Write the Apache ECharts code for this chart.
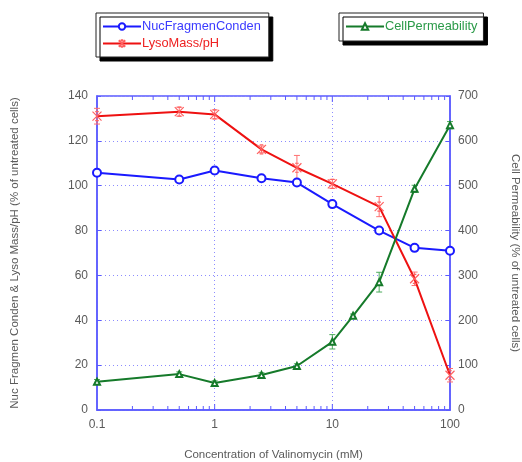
<!DOCTYPE html>
<html><head><meta charset="utf-8">
<script src="https://cdn.jsdelivr.net/npm/echarts@6/dist/echarts.min.js"></script>
<style>html,body{margin:0;padding:0;background:#fff}#c{width:522px;height:462px}</style>
</head><body><div id="c"></div>
<script>
const conc = [0.1, 0.5, 1, 2.5, 5, 10, 25, 50, 100];
const nucFrag = [105.8, 102.8, 106.8, 103.3, 101.4, 91.8, 80, 72.3, 71];
const nucErr = [1.5, 1, 1.5, 1, 1, 1, 1, 1, 1];
const lysoMass = [131, 133, 131.8, 116.2, 108, 100.8, 90.7, 58.5, 15.5];
const lysoErr = [3.5, 2, 2, 1.5, 5.5, 2, 4.5, 3, 3];
const permConc = [0.1, 0.5, 1, 2.5, 5, 10, 15, 25, 50, 100];
const cellPerm = [63, 80, 60, 78, 98, 152, 210, 285, 493, 635];
const permErr = [5, 5, 5, 5, 5, 16, 4, 22, 8, 8];
const minorTickVals = [0.2,0.3,0.4,0.5,0.6,0.7,0.8,0.9,2,3,4,5,6,7,8,9,20,30,40,50,60,70,80,90];
const majorTickVals = [1, 10];

const axisBlue = '#5a5aff';
const labelGray = '#5a5a5a';
const font = 'Liberation Sans, Arial, sans-serif';

function pairs(xs, ys) { return xs.map((x, i) => [x, ys[i]]); }
function errData(xs, ys, es) { return xs.map((x, i) => [x, ys[i] - es[i], ys[i] + es[i]]); }

function errRender(color) {
  return function (params, api) {
    const lo = api.coord([api.value(0), api.value(1)]);
    const hi = api.coord([api.value(0), api.value(2)]);
    const w = 3;
    return {
      type: 'group',
      children: [
        {type: 'line', shape: {x1: lo[0], y1: lo[1], x2: hi[0], y2: hi[1]}, style: {stroke: color, lineWidth: 1}},
        {type: 'line', shape: {x1: lo[0]-w, y1: lo[1], x2: lo[0]+w, y2: lo[1]}, style: {stroke: color, lineWidth: 1}},
        {type: 'line', shape: {x1: hi[0]-w, y1: hi[1], x2: hi[0]+w, y2: hi[1]}, style: {stroke: color, lineWidth: 1}}
      ]
    };
  };
}

function tickRender(params, api) {
  const len = api.value(1);
  const b = api.coord([api.value(0), 0]);
  const t = api.coord([api.value(0), 140]);
  const kids = [
    {type: 'line', shape: {x1: b[0], y1: b[1], x2: b[0], y2: b[1]-len}, style: {stroke: axisBlue, lineWidth: 1}},
    {type: 'line', shape: {x1: t[0], y1: t[1], x2: t[0], y2: t[1]+len}, style: {stroke: axisBlue, lineWidth: 1}}
  ];
  return {type: 'group', children: kids};
}

const xSym = 'path://M0,0L10,10M10,0L0,10M3,0L7,0M3,10L7,10';

const chart = echarts.init(document.getElementById('c'), null, {renderer: 'canvas'});
chart.setOption({
  animation: false,
  backgroundColor: '#fff',
  textStyle: {fontFamily: font},
  grid: {left: 97, right: 72, top: 96, bottom: 52, outerBoundsMode: 'none', containLabel: false,
    show: true, borderColor: axisBlue, borderWidth: 1.5, backgroundColor: 'rgba(0,0,0,0)'},
  legend: [
    {
      left: 96, top: 13, orient: 'vertical', itemWidth: 38, itemHeight: 8, itemGap: 4,
      padding: [7, 8, 7, 6],
      backgroundColor: '#fff', borderColor: '#222', borderWidth: 1,
      shadowColor: '#000', shadowOffsetX: 4, shadowOffsetY: 4, shadowBlur: 0,
      textStyle: {fontSize: 12.8, fontFamily: font, padding: [0, 0, 0, -4]},
      data: [
        {name: 'NucFragmenConden', textStyle: {color: '#3a3aff'}},
        {name: 'LysoMass/pH', textStyle: {color: '#ee2222'}}
      ]
    },
    {
      left: 339, top: 13, orient: 'vertical', itemWidth: 38, itemHeight: 8,
      padding: [7, 6, 8, 6],
      backgroundColor: '#fff', borderColor: '#222', borderWidth: 1,
      shadowColor: '#000', shadowOffsetX: 4, shadowOffsetY: 4, shadowBlur: 0,
      textStyle: {fontSize: 12.8, fontFamily: font, padding: [0, 0, 0, -4]},
      data: [{name: 'CellPermeability', textStyle: {color: '#2a9a48'}}]
    }
  ],
  xAxis: [
    {
      type: 'log', logBase: 10, min: 0.1, max: 100,
      name: 'Concentration of Valinomycin (mM)', nameLocation: 'middle', nameGap: 39,
      nameTextStyle: {color: labelGray, fontSize: 11.5, fontFamily: font},
      axisLine: {show: true, lineStyle: {color: axisBlue, width: 1.5}},
      axisTick: {show: false},
      axisLabel: {color: labelGray, fontSize: 12, margin: 9, formatter: v => String(v)},
      splitLine: {show: true, lineStyle: {color: '#8c8cff', type: [1, 3], width: 1}}
    }
  ],
  yAxis: [
    {
      type: 'value', min: 0, max: 140, interval: 20, position: 'left',
      name: 'Nuc Fragmen Conden & Lyso Mass/pH (% of untreated cells)',
      nameLocation: 'middle', nameGap: 76, nameRotate: 90,
      nameTextStyle: {color: labelGray, fontSize: 11.5, fontFamily: font},
      axisLine: {show: true, lineStyle: {color: axisBlue, width: 1.5}},
      axisTick: {show: true, inside: true, length: 4, lineStyle: {color: axisBlue}},
      axisLabel: {color: labelGray, fontSize: 12, margin: 9},
      splitLine: {show: true, lineStyle: {color: '#8c8cff', type: [1, 3], width: 1}}
    },
    {
      type: 'value', min: 0, max: 700, interval: 100, position: 'right',
      name: 'Cell Permeability (% of untreated cells)',
      nameLocation: 'middle', nameGap: 59, nameRotate: -90,
      nameTextStyle: {color: labelGray, fontSize: 11.5, fontFamily: font},
      axisLine: {show: true, lineStyle: {color: axisBlue, width: 1.5}},
      axisTick: {show: true, inside: true, length: 4, lineStyle: {color: axisBlue}},
      axisLabel: {color: labelGray, fontSize: 12, margin: 8},
      splitLine: {show: false}
    }
  ],
  series: [
    {
      type: 'custom', name: 'ticks', xAxisIndex: 0, yAxisIndex: 0, silent: true,
      renderItem: tickRender,
      data: minorTickVals.map(v => [v, 4]).concat(majorTickVals.map(v => [v, 6])), z: 10
    },
    {
      type: 'line', name: 'NucFragmenConden', xAxisIndex: 0, yAxisIndex: 0,
      data: pairs(conc, nucFrag),
      symbol: 'emptyCircle', symbolSize: 8,
      lineStyle: {color: '#1a1aff', width: 2}, itemStyle: {color: '#1a1aff', borderWidth: 1.5},
      z: 3
    },
    {
      type: 'custom', name: 'nucErr', xAxisIndex: 0, yAxisIndex: 0, silent: true,
      renderItem: errRender('#6f6fff'), data: errData(conc, nucFrag, nucErr), z: 2
    },
    {
      type: 'line', name: 'LysoMass/pH', xAxisIndex: 0, yAxisIndex: 0,
      data: pairs(conc, lysoMass),
      symbol: xSym, symbolSize: 9,
      lineStyle: {color: '#ee1111', width: 2},
      itemStyle: {color: 'rgba(0,0,0,0)', borderColor: '#ff6060', borderWidth: 1.2},
      z: 3
    },
    {
      type: 'custom', name: 'lysoErr', xAxisIndex: 0, yAxisIndex: 0, silent: true,
      renderItem: errRender('#ff7070'), data: errData(conc, lysoMass, lysoErr), z: 2
    },
    {
      type: 'line', name: 'CellPermeability', xAxisIndex: 0, yAxisIndex: 1,
      data: pairs(permConc, cellPerm),
      symbol: 'emptyTriangle', symbolSize: 6,
      lineStyle: {color: '#157a2a', width: 2}, itemStyle: {color: '#157a2a', borderWidth: 1.2},
      z: 3
    },
    {
      type: 'custom', name: 'permErr', xAxisIndex: 0, yAxisIndex: 1, silent: true,
      renderItem: errRender('#4caa5c'), data: errData(permConc, cellPerm, permErr), z: 2
    }
  ]
});
</script>
</body></html>
